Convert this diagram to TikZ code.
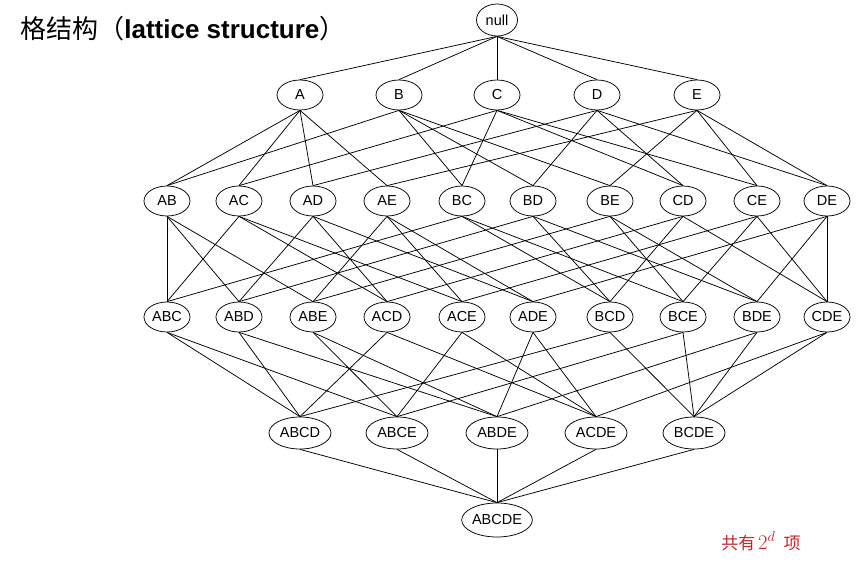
\documentclass[tikz,border=0pt]{standalone}
\usepackage{fontspec}
\setmainfont{Liberation Sans}
\newfontfamily\cjk{Noto Sans CJK SC}
\usetikzlibrary{shapes.geometric}
\definecolor{notered}{RGB}{204,34,41}
\begin{document}
\begin{tikzpicture}[x=1pt,y=-1pt,line width=0.75pt,
    item/.style={ellipse,draw,inner sep=0pt,minimum width=46pt,minimum height=30pt,font=\fontsize{14.5}{16}\selectfont},
    bigitem/.style={item,minimum width=62pt,minimum height=32pt}]
    \useasboundingbox (0,0) rectangle (861,564);
    \node[anchor=base west,inner sep=0pt,font=\fontsize{26}{28}\selectfont] (title) at (20,39) {{\cjk 格结构（}\textbf{lattice structure}{\cjk ）}};
    \node[anchor=base west,inner sep=0pt,text=notered,font=\fontsize{17}{20}\selectfont] (count) at (721,549) {{\cjk 共有}\,{\fontsize{22}{24}\selectfont$2^{d}$}\hspace{8pt}{\cjk 项}};

    \node[item,minimum width=41pt,minimum height=32pt] (null) at (497,20) {null};
    \foreach \n/\x in {A/300,B/399,C/497,D/597,E/697}
        \node[item] (\n) at (\x,95) {\n};
    \foreach \n/\x in {AB/167,AC/239,AD/313,AE/387,BC/462,BD/533,BE/610,CD/683,CE/757,DE/827}
        \node[item] (\n) at (\x,201) {\n};
    \foreach \n/\x in {ABC/167,ABD/239,ABE/313,ACD/387,ACE/462,ADE/533,BCD/610,BCE/683,BDE/757,CDE/827}
        \node[item] (\n) at (\x,317) {\n};
    \foreach \n/\x in {ABCD/300,ABCE/397,ABDE/497,ACDE/596,BCDE/694}
        \node[bigitem] (\n) at (\x,433) {\n};
    \node[item,minimum width=66pt,minimum height=34pt] (ABCDE) at (497,520) {ABCDE};

    \foreach \c in {A,B,C,D,E}
        \draw (null.south) -- (\c.north);
    \foreach \p/\cs in {A/{AB,AC,AD,AE},B/{AB,BC,BD,BE},C/{AC,BC,CD,CE},D/{AD,BD,CD,DE},E/{AE,BE,CE,DE},
        AB/{ABC,ABD,ABE},AC/{ABC,ACD,ACE},AD/{ABD,ACD,ADE},AE/{ABE,ACE,ADE},BC/{ABC,BCD,BCE},
        BD/{ABD,BCD,BDE},BE/{ABE,BCE,BDE},CD/{ACD,BCD,CDE},CE/{ACE,BCE,CDE},DE/{ADE,BDE,CDE},
        ABC/{ABCD,ABCE},ABD/{ABCD,ABDE},ABE/{ABCE,ABDE},ACD/{ABCD,ACDE},ACE/{ABCE,ACDE},
        ADE/{ABDE,ACDE},BCD/{ABCD,BCDE},BCE/{ABCE,BCDE},BDE/{ABDE,BCDE},CDE/{ACDE,BCDE}}
        \foreach \c in \cs
            \draw (\p.south) -- (\c.north);
    \foreach \p in {ABCD,ABCE,ABDE,ACDE,BCDE}
        \draw (\p.south) -- (ABCDE.north);
\end{tikzpicture}
\end{document}
